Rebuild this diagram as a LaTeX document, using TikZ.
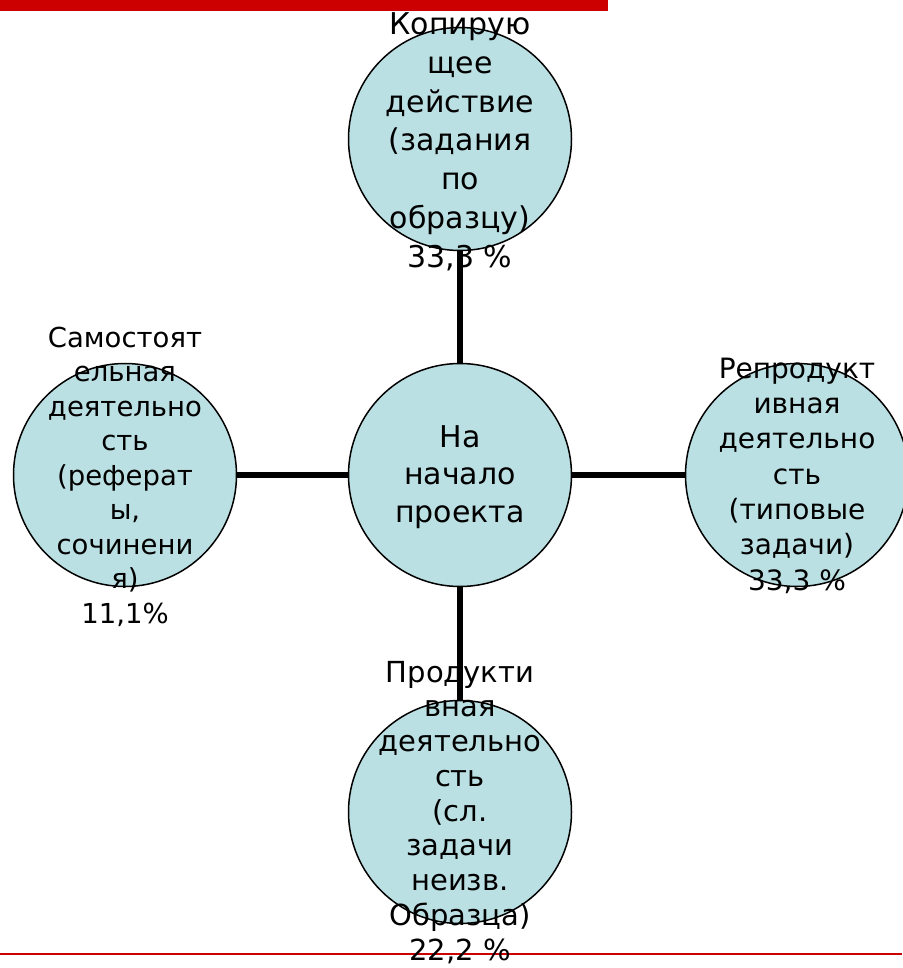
\documentclass[tikz,border=0pt]{standalone}
\usepackage{fontspec}
\setmainfont{DejaVu Sans}
\definecolor{bubfill}{RGB}{187,224,227}
\definecolor{redbar}{RGB}{204,0,0}
\begin{document}
\begin{tikzpicture}[x=1pt,y=-1pt,
  bub/.style={circle, draw=black, line width=1.5pt, fill=bubfill, minimum size=223pt, inner sep=0pt},
  txt/.style 2 args={align=center, anchor=base, inner sep=0pt, font=\fontsize{#1}{#2}\selectfont},
  link/.style={line width=5.5pt}]
\useasboundingbox (0,0) rectangle (902,968);
\fill[redbar] (0,0) rectangle (608,11);
\draw[redbar, line width=2pt] (0,954) -- (902,954);
\node[bub] (top) at (460,139) {};
\node[bub] (mid) at (460,475) {};
\node[bub] (left) at (125,475) {};
\node[bub] (right) at (797,475) {};
\node[bub] (bot) at (460,812) {};
\draw[link] (top) -- (mid);
\draw[link] (mid) -- (bot);
\draw[link] (left) -- (mid);
\draw[link] (mid) -- (right);
\node[txt={30}{38.7}] (toptext) at (460,267) {Копирую\\щее\\действие\\(задания\\по\\образцу)\\33,3 \%};
\node[txt={30}{37.5}] (midtext) at (460,522) {На\\начало\\проекта};
\node[txt={27.5}{34.5}] (lefttext) at (125,623) {Самостоят\\ельная\\деятельно\\сть\\(реферат\\ы,\\сочинени\\я)\\11,1\%};
\node[txt={28}{35.3}] (righttext) at (797,590) {Репродукт\\ивная\\деятельно\\сть\\(типовые\\задачи)\\33,3 \%};
\node[txt={29}{34.75}] (bottext) at (460,960) {Продукти\\вная\\деятельно\\сть\\(сл.\\задачи\\неизв.\\Образца)\\22,2 \%};
\end{tikzpicture}
\end{document}
